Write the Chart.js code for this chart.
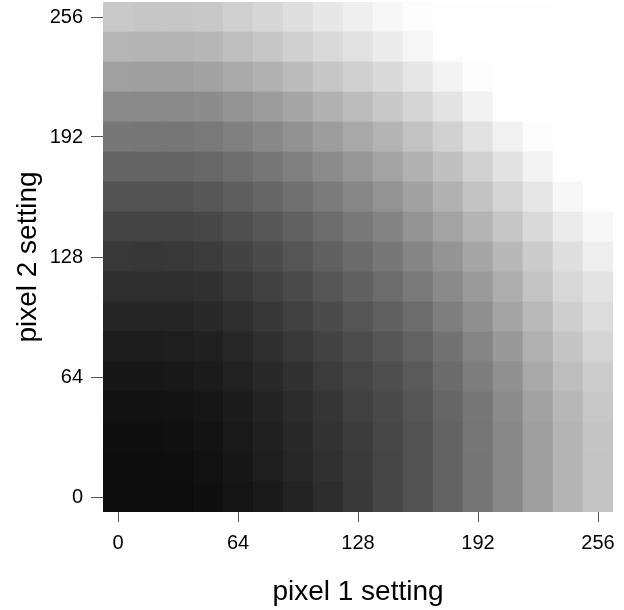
<!DOCTYPE html>
<html lang="en">
<head>
    <meta charset="UTF-8">
    <title>pixel 1 setting vs pixel 2 setting</title>
    <script src="https://cdn.jsdelivr.net/npm/chart.js"></script>
    <style>
        body { margin: 0; background: #fff; }
    </style>
</head>
<body>
    <canvas id="grid" width="624" height="610"></canvas>

    <script>
        // settings of the two pixels (cell centres)
        const pixel1 = [0, 16, 32, 48, 64, 80, 96, 112, 128, 144, 160, 176, 192, 208, 224, 240, 256];
        const pixel2 = [0, 16, 32, 48, 64, 80, 96, 112, 128, 144, 160, 176, 192, 208, 224, 240, 256];
        const tickValues = [0, 64, 128, 192, 256];
        const binWidth = 16;

        // grey level (0-255) of each cell, one row per pixel 2 setting, from 0 up to 256
        const grey0   = [0x0c,0x0c,0x0d,0x0f,0x14,0x1a,0x23,0x2d,0x39,0x46,0x52,0x63,0x75,0x88,0x9f,0xb4,0xc4];
        const grey16  = [0x0d,0x0d,0x0e,0x11,0x17,0x1e,0x27,0x30,0x3a,0x46,0x52,0x63,0x75,0x88,0x9f,0xb4,0xc4];
        const grey32  = [0x0f,0x0f,0x10,0x13,0x19,0x20,0x29,0x32,0x3c,0x47,0x52,0x63,0x76,0x88,0x9f,0xb4,0xc5];
        const grey48  = [0x12,0x12,0x13,0x16,0x1c,0x23,0x2c,0x35,0x40,0x49,0x55,0x66,0x77,0x8b,0xa2,0xb7,0xc7];
        const grey64  = [0x17,0x17,0x18,0x1b,0x21,0x29,0x31,0x3b,0x45,0x4e,0x5a,0x6b,0x7d,0x90,0xa8,0xbd,0xcc];
        const grey80  = [0x1d,0x1d,0x1e,0x20,0x27,0x2f,0x38,0x42,0x4c,0x56,0x62,0x72,0x85,0x99,0xb0,0xc5,0xd4];
        const grey96  = [0x25,0x25,0x25,0x28,0x2f,0x37,0x40,0x4b,0x55,0x60,0x6c,0x7e,0x8f,0xa4,0xb9,0xce,0xdc];
        const grey112 = [0x2e,0x2e,0x2e,0x31,0x39,0x41,0x4a,0x55,0x60,0x6c,0x79,0x89,0x9a,0xad,0xc4,0xd7,0xe3];
        const grey128 = [0x38,0x37,0x38,0x3b,0x43,0x4b,0x55,0x60,0x6b,0x77,0x85,0x94,0xa6,0xb8,0xcb,0xde,0xee];
        const grey144 = [0x44,0x44,0x44,0x47,0x4f,0x57,0x61,0x6c,0x78,0x84,0x93,0xa3,0xb4,0xc6,0xd9,0xeb,0xf7];
        const grey160 = [0x53,0x53,0x53,0x57,0x5e,0x66,0x70,0x7b,0x87,0x93,0xa1,0xb1,0xc3,0xd4,0xe6,0xf7,0xfe];
        const grey176 = [0x64,0x64,0x64,0x67,0x6e,0x76,0x80,0x8b,0x96,0xa3,0xb1,0xc0,0xd1,0xe2,0xf3,0xfe,0xfe];
        const grey192 = [0x77,0x76,0x76,0x79,0x80,0x88,0x92,0x9d,0xa8,0xb4,0xc2,0xd1,0xe1,0xf1,0xfd,0xfe,0xfe];
        const grey208 = [0x8a,0x8a,0x8a,0x8c,0x94,0x9c,0xa6,0xb1,0xbc,0xc8,0xd5,0xe3,0xf2,0xfe,0xfe,0xfe,0xfe];
        const grey224 = [0xa0,0x9f,0x9f,0xa2,0xaa,0xb1,0xbb,0xc6,0xcf,0xda,0xe6,0xf3,0xfd,0xfe,0xfe,0xfe,0xfe];
        const grey240 = [0xb5,0xb4,0xb4,0xb6,0xbf,0xc6,0xd0,0xd9,0xe2,0xec,0xf6,0xfe,0xfe,0xfe,0xfe,0xff,0xff];
        const grey256 = [0xc9,0xc6,0xc6,0xc8,0xcf,0xd6,0xde,0xe7,0xef,0xf7,0xfd,0xfe,0xfe,0xfe,0xfe,0xff,0xff];

        const greyRows = [grey0, grey16, grey32, grey48, grey64, grey80, grey96, grey112, grey128,
                          grey144, grey160, grey176, grey192, grey208, grey224, grey240, grey256];

        // each row of cells is one dataset of floating bars
        const datasets = pixel2.map((p2, r) => ({
            data: pixel1.map(p1 => ({ x: p1, y: [p2 - binWidth / 2, p2 + binWidth / 2] })),
            backgroundColor: greyRows[r].map(g => `rgb(${g},${g},${g})`),
            borderWidth: 0,
            barPercentage: 1,
            categoryPercentage: 1,
            grouped: false
        }));

        const fixTicks = scale => {
            scale.ticks = tickValues.map(v => ({ value: v }));
        };

        Chart.defaults.font.family = "'Liberation Sans', Arial, sans-serif";
        Chart.defaults.color = '#000';

        new Chart(document.getElementById('grid'), {
            type: 'bar',
            data: { datasets },
            options: {
                responsive: false,
                animation: false,
                layout: { padding: { left: 0, right: 11, top: 2, bottom: 0 } },
                plugins: {
                    legend: { display: false },
                    tooltip: { enabled: false }
                },
                scales: {
                    x: {
                        type: 'linear',
                        min: pixel1[0] - binWidth / 2,
                        max: pixel1[pixel1.length - 1] + binWidth / 2,
                        offset: false,
                        afterBuildTicks: fixTicks,
                        afterFit: s => { s.height = 98; s.paddingLeft = 0; s.paddingRight = 0; },
                        border: { display: false },
                        grid: { offset: false, drawOnChartArea: false, tickLength: 10, color: '#555' },
                        ticks: { font: { size: 20 }, padding: 9, maxRotation: 0 },
                        title: {
                            display: true,
                            text: 'pixel 1 setting',
                            font: { size: 28 },
                            padding: { top: 0, bottom: 1 }
                        }
                    },
                    y: {
                        type: 'linear',
                        min: pixel2[0] - binWidth / 2,
                        max: pixel2[pixel2.length - 1] + binWidth / 2,
                        afterBuildTicks: fixTicks,
                        afterFit: s => { s.width = 103; s.paddingTop = 0; s.paddingBottom = 0; },
                        border: { display: false },
                        grid: { drawOnChartArea: false, tickLength: 12, color: '#555' },
                        ticks: { font: { size: 20 }, padding: 8 },
                        title: {
                            display: true,
                            text: 'pixel 2 setting',
                            font: { size: 28 },
                            padding: { top: 11, bottom: 0 }
                        }
                    }
                }
            }
        });
    </script>
</body>
</html>
